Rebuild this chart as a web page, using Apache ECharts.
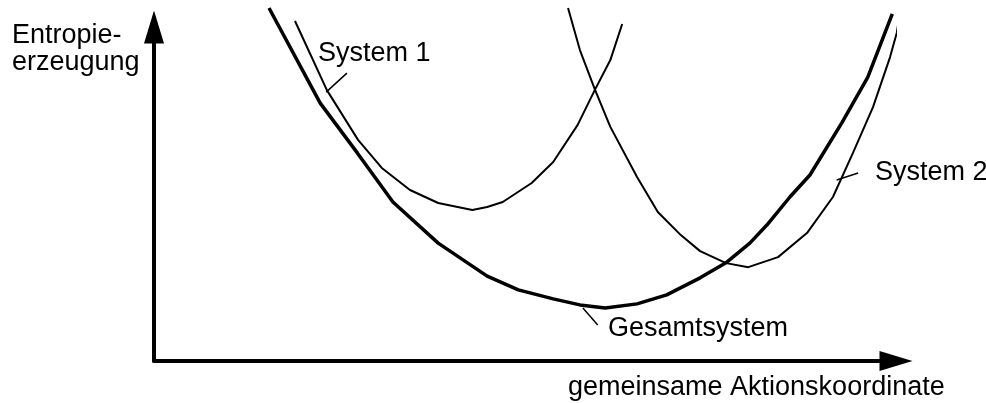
<!DOCTYPE html>
<html lang="de">
<head>
<meta charset="UTF-8">
<title>Entropieerzeugung</title>
<script src="https://cdn.jsdelivr.net/npm/echarts@6/dist/echarts.min.js"></script>
<style>
    html, body { margin: 0; padding: 0; background: #fff; }
    #main { width: 986px; height: 403px; }
</style>
</head>
<body>
<div id="main"></div>
<script>
// Kurven: [Aktionskoordinate, Entropieerzeugung], beide Achsen 0..100
var system1 = [[19.0, 101.8], [23.3, 81.1], [27.5, 66.2], [30.7, 57.8], [34.5, 51.2], [38.3, 47.3],
    [42.9, 45.2], [44.9, 46.1], [47.0, 47.6], [50.9, 53.3], [53.8, 59.6], [57.1, 70.7],
    [59.4, 81.1], [61.5, 90.1], [63.1, 100.9]];
var system2 = [[55.8, 105.7], [57.4, 93.1], [59.4, 81.4], [61.5, 70.1], [65.1, 55.1], [67.9, 44.6],
    [71.0, 37.7], [73.6, 32.9], [77.1, 29.3], [80.1, 28.1], [84.1, 31.1], [88.0, 38.3],
    [91.5, 49.1], [94.2, 62.3], [96.9, 76.0], [99.2, 91.0], [100.1, 98.2], [100.5, 103.6]];
var gesamt = [[15.5, 105.7], [22.4, 77.2], [27.4, 62.3], [32.2, 47.6], [38.3, 35.3], [44.9, 25.4],
    [49.1, 21.3], [53.8, 18.6], [57.4, 16.8], [60.8, 15.9], [65.1, 17.1], [69.1, 19.8],
    [73.6, 24.9], [77.2, 29.6], [80.3, 35.3], [82.6, 40.7], [85.7, 49.1], [88.4, 55.7],
    [92.7, 71.3], [96.2, 85.0], [99.5, 103.9]];

// Hinweislinien zu den Beschriftungen
var leader1 = [[23.2, 80.5], [26.0, 86.2]];
var leader2 = [[92.0, 54.2], [94.9, 56.3]];
var leaderG = [[57.8, 15.9], [59.8, 10.8]];

var xName = 'gemeinsame Aktionskoordinate';
var yName = ['Entropie-', 'erzeugung'];

var FONT = '27px "Liberation Sans", Arial, sans-serif';

function kurve(name, data, width, leader) {
    return {
        name: name,
        type: 'line',
        data: data,
        symbol: 'none',
        clip: false,
        lineStyle: { color: '#000', width: width },
        markLine: {
            silent: true,
            symbol: ['none', 'none'],
            label: { show: false },
            lineStyle: { color: '#000', width: 1.5, type: 'solid' },
            data: [[{ coord: leader[0] }, { coord: leader[1] }]]
        }
    };
}

function txt(s, x, y) {
    return {
        type: 'text', x: x, y: y,
        style: { text: s, font: FONT, fill: '#000', verticalAlign: 'middle' }
    };
}

var chart = echarts.init(document.getElementById('main'));
var achse = {
    type: 'value', min: 0, max: 100,
    axisLine: {
        show: true,
        lineStyle: { color: '#000', width: 4 },
        symbol: ['none', 'triangle'],
        symbolSize: [20, 33]
    },
    axisTick: { show: false },
    axisLabel: { show: false },
    splitLine: { show: false }
};

chart.setOption({
    animation: false,
    grid: { left: 154, right: 90, top: 27, bottom: 42 },
    xAxis: achse,
    yAxis: achse,
    series: [
        kurve('System 1', system1, 2, leader1),
        kurve('System 2', system2, 2, leader2),
        kurve('Gesamtsystem', gesamt, 3.5, leaderG)
    ],
    graphic: [
        txt(yName[0], 12, 36),
        txt(yName[1], 12, 63),
        txt('System 1', 318, 54),
        txt('System 2', 875, 173),
        txt('Gesamtsystem', 608, 329),
        txt(xName, 568, 388)
    ]
});
</script>
</body>
</html>
